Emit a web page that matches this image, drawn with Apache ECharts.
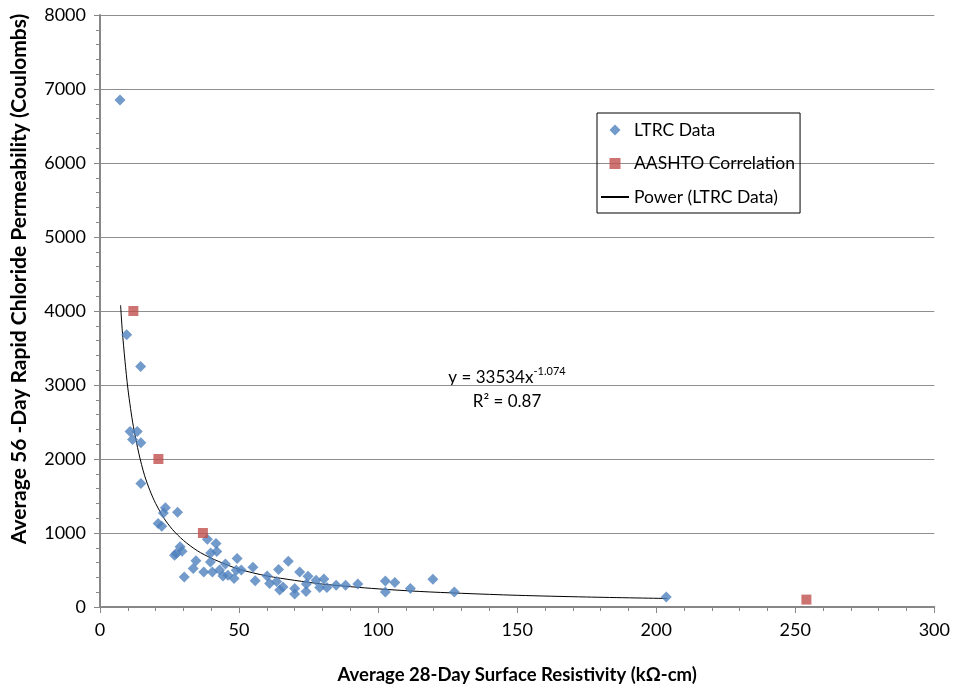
<!DOCTYPE html>
<html>
<head>
<meta charset="utf-8">
<script src="https://cdn.jsdelivr.net/npm/echarts@6/dist/echarts.min.js"></script>
<style>
  html, body { margin: 0; padding: 0; background: #fff; }
  #chart { width: 953px; height: 691px; }
</style>
</head>
<body>
<div id="chart"></div>
<script>
// LTRC measured data (surface resistivity kOhm-cm, RCP coulombs)
const ltrcResistivity = [7.2, 9.6, 14.6, 10.8, 13.4, 11.7, 14.7, 14.7, 23.5, 22.8, 27.9, 20.9, 22.2,
  38.6, 41.7, 28.8, 29.5, 27.4, 26.8, 39.8, 42.0, 34.5, 49.3, 33.5, 39.7, 30.3, 37.3, 40.4, 45.1,
  43.0, 44.2, 46.0, 48.2, 49.0, 50.8, 55.0, 55.8, 60.1, 61.0, 63.5, 64.2, 67.7, 64.6, 65.8, 70.0,
  70.0, 71.8, 74.2, 74.1, 74.8, 77.7, 79.0, 80.5, 81.6, 84.9, 88.3, 92.7, 102.6, 102.6, 106.0,
  111.6, 119.7, 127.4, 203.6]
const ltrcPermeability = [6850, 3680, 3250, 2370, 2370, 2265, 2220, 1670, 1340, 1270, 1280, 1130, 1090,
  915, 857, 815, 755, 722, 700, 730, 750, 625, 655, 519, 609, 406, 473, 473, 580,
  500, 420, 430, 384, 496, 500, 537, 356, 420, 316, 345, 506, 618, 230, 271, 249,
  175, 473, 310, 210, 415, 361, 265, 380, 265, 294, 294, 310, 352, 203, 330,
  249, 375, 203, 135]

// AASHTO correlation points
const aashtoResistivity = [12, 21, 37, 254]
const aashtoPermeability = [4000, 2000, 1000, 100]

// power trendline
const trendX = [7.4, 8, 9, 10, 11, 12, 14, 16, 18, 20, 23, 26, 30, 35, 40, 45, 50, 60, 70, 80, 90, 100, 115, 130, 150, 175, 204]
const trendY = [4080, 3740, 3320, 2960, 2680, 2440, 2070, 1780, 1570, 1400, 1200, 1050, 900, 760, 660, 580, 510, 420, 360, 310, 275, 245, 210, 185, 158, 135, 115]

const xTicks = [0, 50, 100, 150, 200, 250, 300]
const yTicks = [0, 1000, 2000, 3000, 4000, 5000, 6000, 7000, 8000]

const zip = (a, b) => a.map((v, i) => [v, b[i]])

const font = 'Lato'
const axisGray = '#878787'

var myChart = echarts.init(document.getElementById('chart'))

var option = {
  animation: false,
  textStyle: { fontFamily: font },
  grid: { left: 100, right: 17, top: 15, bottom: 84 },
  legend: {
    orient: 'vertical',
    left: 597,
    top: 113,
    padding: [8, 5, 7, 3],
    itemGap: 15.5,
    itemWidth: 28,
    itemHeight: 11,
    borderColor: '#000',
    borderWidth: 1,
    textStyle: { fontFamily: font, fontSize: 17.5, lineHeight: 18, color: '#000' },
    data: [
      { name: 'LTRC Data', icon: 'path://M5,0 L10,5 L5,10 L0,5 Z' },
      { name: 'AASHTO Correlation', icon: 'path://M0,0 L10,0 L10,10 L0,10 Z' },
      { name: 'Power (LTRC Data)', itemStyle: { color: 'rgba(0,0,0,0)', borderWidth: 0 } }
    ]
  },
  xAxis: {
    type: 'value',
    min: xTicks[0],
    max: xTicks[xTicks.length - 1],
    interval: 50,
    name: 'Average 28-Day Surface Resistivity (kΩ-cm)',
    nameLocation: 'middle',
    nameGap: 59,
    nameTextStyle: { fontFamily: font, fontSize: 18.5, fontWeight: 'bold', color: '#000' },
    axisLine: { lineStyle: { color: axisGray, width: 2 } },
    axisTick: { show: true, length: 6, lineStyle: { color: axisGray } },
    minorTick: { show: true, splitNumber: 5, length: 4, lineStyle: { color: axisGray } },
    axisLabel: { margin: 14, fontSize: 18, color: '#000', fontFamily: font },
    splitLine: { show: false }
  },
  yAxis: {
    type: 'value',
    min: yTicks[0],
    max: yTicks[yTicks.length - 1],
    interval: 1000,
    axisLine: { show: true, lineStyle: { color: axisGray, width: 2 } },
    axisTick: { show: true, length: 6, lineStyle: { color: axisGray } },
    minorTick: { show: true, splitNumber: 5, length: 4, lineStyle: { color: axisGray } },
    axisLabel: { margin: 14, fontSize: 18, color: '#000', fontFamily: font, formatter: v => String(v) },
    splitLine: { show: true, lineStyle: { color: '#8e8e8e', width: 1 } }
  },
  graphic: [
    {
      type: 'text',
      x: 19,
      y: 279,
      rotation: Math.PI / 2,
      style: {
        text: 'Average 56 -Day Rapid Chloride Permeability (Coulombs)',
        fontFamily: font,
        fontSize: 21,
        fontWeight: 'bold',
        fill: '#000',
        align: 'center',
        verticalAlign: 'middle'
      }
    },
    {
      type: 'text',
      x: 507,
      y: 390,
      style: {
        text: '{a|y = 33534x}{b|-1.074}\n{a|R² = 0.87}',
        align: 'center',
        verticalAlign: 'middle',
        rich: {
          a: { fontFamily: font, fontSize: 17, lineHeight: 24, fill: '#000' },
          b: { fontFamily: font, fontSize: 11, lineHeight: 24, verticalAlign: 'top', fill: '#000' }
        }
      }
    }
  ],
  series: [
    {
      name: 'LTRC Data',
      type: 'scatter',
      symbol: 'diamond',
      symbolSize: 11,
      itemStyle: { color: '#4F81BD' },
      data: zip(ltrcResistivity, ltrcPermeability),
      z: 3
    },
    {
      name: 'AASHTO Correlation',
      type: 'scatter',
      symbol: 'rect',
      symbolSize: 10,
      itemStyle: { color: '#C0504D' },
      data: zip(aashtoResistivity, aashtoPermeability),
      z: 4
    },
    {
      name: 'Power (LTRC Data)',
      type: 'line',
      symbol: 'none',
      smooth: 0.3,
      lineStyle: { color: '#000', width: 1 },
      itemStyle: { color: '#000' },
      data: zip(trendX, trendY),
      z: 2
    }
  ]
}

myChart.setOption(option)
</script>
</body>
</html>
